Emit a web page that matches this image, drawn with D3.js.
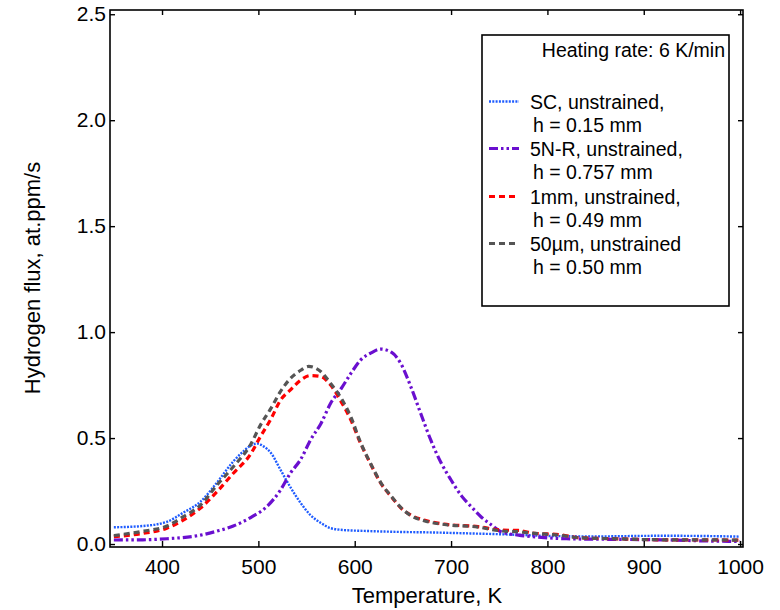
<!DOCTYPE html>
<html>
<head>
<meta charset="utf-8">
<script src="https://cdn.jsdelivr.net/npm/d3@7/dist/d3.min.js"></script>
<style>
  html, body { margin: 0; padding: 0; background: #fff; }
  svg { display: block; }
  text { font-family: "Liberation Sans", Arial, sans-serif; fill: #000; }
</style>
</head>
<body>
<svg id="chart" width="780" height="610"></svg>
<script>
// ---- data ----
const xTicks = [400, 500, 600, 700, 800, 900, 1000];
const yTicks = [0.0, 0.5, 1.0, 1.5, 2.0, 2.5];

const scT = [350, 380, 405, 422, 440, 457, 474, 485, 492, 499, 505, 513, 523, 533, 544, 554, 565, 575, 589, 610, 648, 676, 720, 760, 801, 850, 919, 960, 999];
const scV = [0.079, 0.085, 0.105, 0.148, 0.20, 0.29, 0.39, 0.44, 0.465, 0.474, 0.462, 0.43, 0.35, 0.27, 0.193, 0.137, 0.099, 0.075, 0.066, 0.062, 0.057, 0.055, 0.05, 0.045, 0.038, 0.036, 0.039, 0.038, 0.035];

const nrT = [350, 380, 405, 440, 457, 474, 492, 509, 523, 533, 544, 554, 565, 575, 586, 596, 606, 617, 627, 638, 648, 658, 669, 679, 690, 700, 711, 721, 731, 742, 752, 770, 787, 820, 870, 920, 960, 1000];
const nrV = [0.019, 0.02, 0.025, 0.042, 0.061, 0.085, 0.125, 0.178, 0.255, 0.333, 0.40, 0.49, 0.569, 0.664, 0.734, 0.805, 0.868, 0.902, 0.92, 0.905, 0.85, 0.745, 0.61, 0.49, 0.38, 0.302, 0.226, 0.176, 0.129, 0.09, 0.058, 0.042, 0.034, 0.025, 0.022, 0.02, 0.015, 0.012];

const mmT = [350, 380, 405, 422, 440, 457, 474, 492, 502, 513, 523, 533, 544, 554, 565, 575, 586, 596, 606, 617, 627, 638, 648, 658, 672, 693, 728, 752, 770, 787, 812, 832, 870, 920, 960, 1000];
const mmV = [0.035, 0.05, 0.075, 0.113, 0.17, 0.247, 0.334, 0.425, 0.506, 0.59, 0.679, 0.726, 0.774, 0.795, 0.79, 0.75, 0.671, 0.585, 0.476, 0.373, 0.287, 0.223, 0.17, 0.137, 0.113, 0.094, 0.082, 0.066, 0.064, 0.05, 0.045, 0.03, 0.025, 0.02, 0.02, 0.018];

const umT = [350, 380, 405, 422, 440, 457, 474, 492, 502, 513, 523, 533, 544, 552, 565, 575, 586, 596, 606, 617, 627, 638, 648, 658, 672, 693, 728, 752, 770, 787, 812, 832, 870, 920, 960, 1000];
const umV = [0.04, 0.06, 0.085, 0.129, 0.184, 0.278, 0.365, 0.47, 0.56, 0.64, 0.72, 0.78, 0.82, 0.838, 0.813, 0.758, 0.688, 0.6, 0.48, 0.375, 0.29, 0.225, 0.172, 0.135, 0.11, 0.092, 0.08, 0.062, 0.058, 0.05, 0.042, 0.03, 0.025, 0.02, 0.02, 0.018];

const seriesNames = ["SC, unstrained,", "5N-R, unstrained,", "1mm, unstrained,", "50\u00b5m, unstrained"];
const seriesSub = ["h = 0.15 mm", "h = 0.757 mm", "h = 0.49 mm", "h = 0.50 mm"];
const seriesColors = ["#1f5cff", "#6a0fcf", "#ff0000", "#555555"];
const seriesDash = ["2,1.3", "9,3,2.5,3,2.5,3", "6,4", "6,4"];
const seriesWidth = [2.4, 3.2, 3.2, 3.2];
const legendTitle = "Heating rate: 6 K/min";
const xTitle = "Temperature, K";
const yTitle = "Hydrogen flux, at.ppm/s";

// ---- chart ----
const svg = d3.select("#chart");
const x = d3.scaleLinear().domain([346, 1003]).range([110, 743]);
const y = d3.scaleLinear().domain([-0.014, 2.52]).range([547, 10]);

const series = [
  { T: scT, V: scV },
  { T: nrT, V: nrV },
  { T: mmT, V: mmV },
  { T: umT, V: umV }
];

const line = d3.line().x(d => x(d[0])).y(d => y(d[1])).curve(d3.curveMonotoneX);

series.forEach((s, i) => {
  const pts = s.T.map((t, k) => [t, s.V[k]]);
  svg.append("path")
    .attr("d", line(pts))
    .attr("fill", "none")
    .attr("stroke", seriesColors[i])
    .attr("stroke-width", seriesWidth[i])
    .attr("stroke-dasharray", seriesDash[i]);
});

// frame
svg.append("rect")
  .attr("x", 110).attr("y", 10)
  .attr("width", 633).attr("height", 537)
  .attr("fill", "none").attr("stroke", "#000").attr("stroke-width", 1.6);

// axes
const fs = 21;
const xAxisB = d3.axisBottom(x).tickValues(xTicks).tickSize(-6).tickPadding(12).tickFormat(d3.format("d"));
const gB = svg.append("g").attr("transform", "translate(0,547)").call(xAxisB);
const xAxisT = d3.axisTop(x).tickValues(xTicks).tickSize(-5).tickFormat("");
const gT = svg.append("g").attr("transform", "translate(0,10)").call(xAxisT);
const yAxisL = d3.axisLeft(y).tickValues(yTicks).tickSize(-5).tickPadding(4).tickFormat(d3.format(".1f"));
const gL = svg.append("g").attr("transform", "translate(110,0)").call(yAxisL);
const yAxisR = d3.axisRight(y).tickValues(yTicks).tickSize(-5).tickFormat("");
const gR = svg.append("g").attr("transform", "translate(743,0)").call(yAxisR);

[gB, gT, gL, gR].forEach(g => {
  g.select(".domain").remove();
  g.selectAll(".tick line").attr("stroke", "#000").attr("stroke-width", 1.4);
  g.selectAll(".tick text").style("font-family", "'Liberation Sans', Arial, sans-serif").style("font-size", fs + "px").attr("fill", "#000");
});

// axis titles
svg.append("text")
  .attr("x", 427).attr("y", 603)
  .attr("text-anchor", "middle")
  .style("font-size", "22px")
  .text(xTitle);

svg.append("text")
  .attr("transform", "translate(40,278) rotate(-90)")
  .attr("text-anchor", "middle")
  .style("font-size", "22px")
  .text(yTitle);

// legend
svg.append("rect")
  .attr("x", 482).attr("y", 35)
  .attr("width", 247).attr("height", 271)
  .attr("fill", "#fff").attr("stroke", "#000").attr("stroke-width", 1.6);

svg.append("text")
  .attr("x", 725).attr("y", 57)
  .attr("text-anchor", "end")
  .style("font-size", "19.5px")
  .text(legendTitle);

const rowY = [101.5, 148.5, 196.5, 243.5];
seriesNames.forEach((n, i) => {
  svg.append("line")
    .attr("x1", 489).attr("x2", 519)
    .attr("y1", rowY[i]).attr("y2", rowY[i])
    .attr("stroke", seriesColors[i])
    .attr("stroke-width", seriesWidth[i])
    .attr("stroke-dasharray", seriesDash[i]);
  svg.append("text")
    .attr("x", 530).attr("y", rowY[i] + 7)
    .style("font-size", "19.5px")
    .text(n);
  svg.append("text")
    .attr("x", 533).attr("y", rowY[i] + 30.5)
    .style("font-size", "19.5px")
    .text(seriesSub[i]);
});
</script>
</body>
</html>
